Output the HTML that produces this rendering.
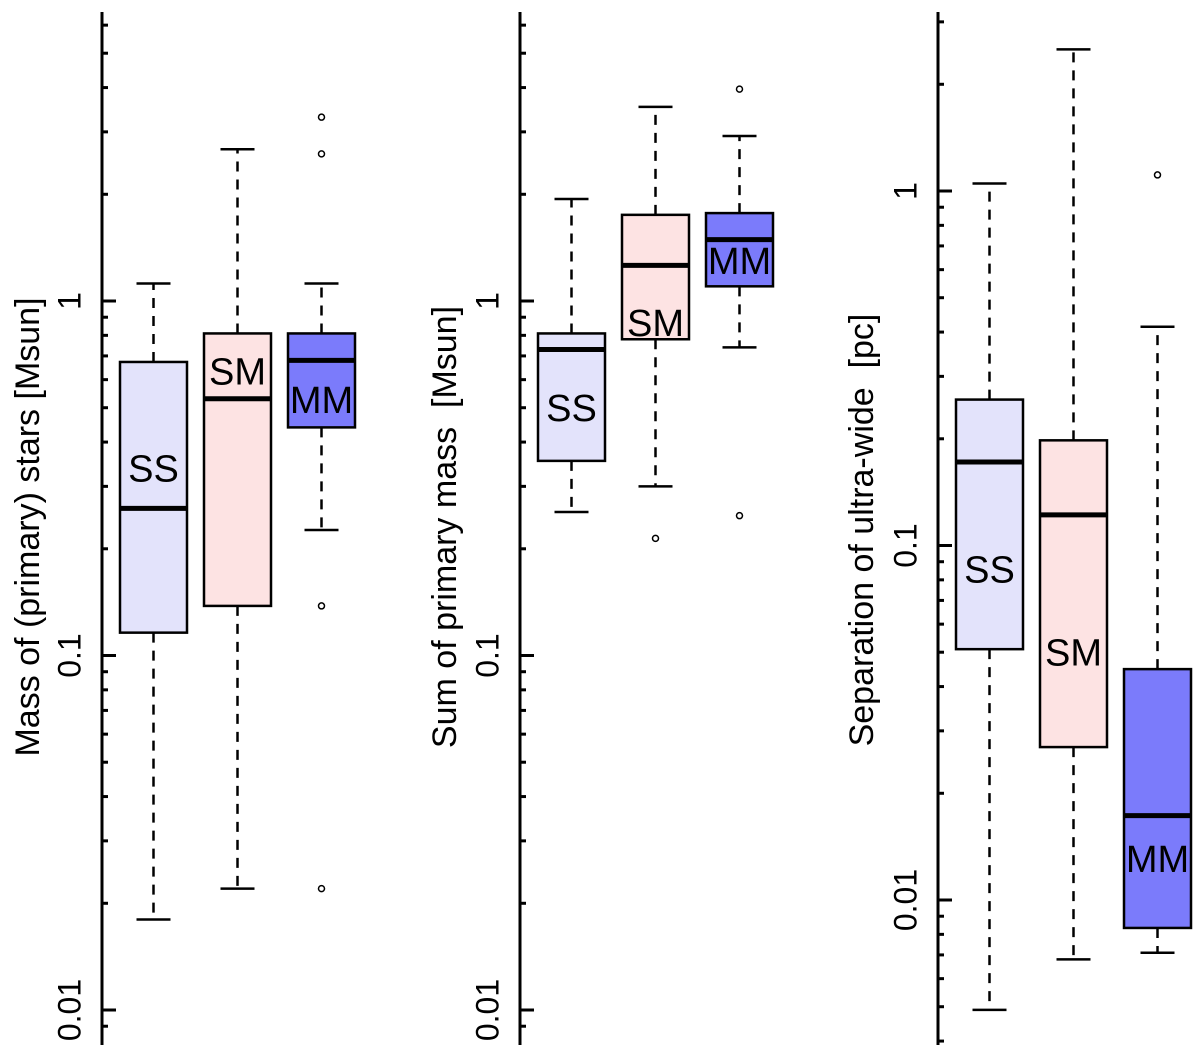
<!DOCTYPE html>
<html><head><meta charset="utf-8"><style>
html,body{margin:0;padding:0;background:#fff;}
svg{display:block;font-family:"Liberation Sans",sans-serif;}
text{white-space:pre;}
</style></head><body>
<svg id="chart" width="1200" height="1057" viewBox="0 0 1200 1057" xmlns="http://www.w3.org/2000/svg"></svg>
<script>
const groups = ["SS","SM","MM"];
const colors = ["#e3e3fb","#fde3e3","#7b7bfb"];
const panelTitles = ["Mass of (primary) stars [Msun]","Sum of primary mass  [Msun]","Separation of ultra-wide  [pc]"];
const tickValues = [0.01,0.1,1];
const tickLabels = ["0.01","0.1","1"];
// per panel: [whiskerLow, q1, median, q3, whiskerHigh]
const p1Stats = [[0.018,0.116,0.26,0.673,1.12],[0.022,0.138,0.53,0.81,2.68],[0.226,0.44,0.68,0.81,1.12]];
const p2Stats = [[0.254,0.354,0.73,0.81,1.94],[0.30,0.78,1.26,1.75,3.53],[0.74,1.10,1.49,1.77,2.92]];
const p3Stats = [[0.0049,0.051,0.172,0.258,1.05],[0.0068,0.027,0.122,0.198,2.51],[0.0071,0.00834,0.0173,0.0448,0.414]];
const p1Outliers = [[],[],[3.3,2.6,0.138,0.022]];
const p2Outliers = [[],[0.214],[3.96,0.248]];
const p3Outliers = [[],[],[1.11]];
const labelPos1 = [0.33,0.62,0.515];
const labelPos2 = [0.49,0.85,1.27];
const labelPos3 = [0.084,0.049,0.0128];

const svg = document.getElementById('chart');
const NS = "http://www.w3.org/2000/svg";
function mk(tag, attrs, parent){const e=document.createElementNS(NS,tag);for(const k in attrs)e.setAttribute(k,attrs[k]);(parent||svg).appendChild(e);return e;}

const panels = [
 {axisX:102, y1:301, stats:p1Stats, out:p1Outliers, lab:labelPos1, lmin:-2.1, lmax:0.82, titleX:30, titleY:527, tickLX:72},
 {axisX:520, y1:301, stats:p2Stats, out:p2Outliers, lab:labelPos2, lmin:-2.1, lmax:0.82, titleX:447, titleY:527, tickLX:490},
 {axisX:938, y1:191, stats:p3Stats, out:p3Outliers, lab:labelPos3, lmin:-2.41, lmax:0.51, titleX:864, titleY:530, tickLX:908}
];
const DEC = 354.5;
panels.forEach((p,pi)=>{
  const y = v => p.y1 - Math.log10(v)*DEC;
  const g = mk('g',{});
  
  
  const ax = mk('line',{x1:p.axisX,x2:p.axisX,y1:12,y2:1045,stroke:'#000','stroke-width':3},g);
  
  
  for(let d=-3; d<=1; d++){
    for(let m=1;m<=9;m++){
      const v=m*Math.pow(10,d); const yy=y(v);
      if(yy<14||yy>1044) continue;
      const t=mk('line',{x1:p.axisX,x2:p.axisX+(m===1?14:6),y1:yy,y2:yy,stroke:'#000','stroke-width':3},g);
      
      
    }
  }
  tickValues.forEach((v,i)=>{
    const yy=y(v); if(yy<14||yy>1044) return;
    const t=mk('text',{x:p.tickLX,y:yy,transform:`rotate(-90 ${p.tickLX} ${yy})`,'text-anchor':'middle','dominant-baseline':'middle','font-size':32},g);
    t.textContent=tickLabels[i];
    
    
  });
  const tt=mk('text',{x:p.titleX,y:p.titleY,transform:`rotate(-90 ${p.titleX} ${p.titleY})`,'text-anchor':'middle','dominant-baseline':'middle','font-size':34},g);
  tt.textContent=panelTitles[pi];
  
  
  groups.forEach((gname,bi)=>{
    const s=p.stats[bi];
    const x0=p.axisX+18+bi*84, w=67, cx=x0+w/2;
    const bg=mk('g',{},g);
    
    
    mk('line',{x1:cx,x2:cx,y1:y(s[3]),y2:y(s[4]),stroke:'#000','stroke-width':2.5,'stroke-dasharray':'10 8'},bg);
    mk('line',{x1:cx,x2:cx,y1:y(s[1]),y2:y(s[0]),stroke:'#000','stroke-width':2.5,'stroke-dasharray':'10 8'},bg);
    mk('line',{x1:cx-17,x2:cx+17,y1:y(s[4]),y2:y(s[4]),stroke:'#000','stroke-width':2.5},bg);
    mk('line',{x1:cx-17,x2:cx+17,y1:y(s[0]),y2:y(s[0]),stroke:'#000','stroke-width':2.5},bg);
    mk('rect',{x:x0,y:y(s[3]),width:w,height:y(s[1])-y(s[3]),fill:colors[bi],stroke:'#000','stroke-width':2.5},bg);
    const lt=mk('text',{x:cx,y:y(p.lab[bi]),'text-anchor':'middle','dominant-baseline':'middle','font-size':38},bg);
    lt.textContent=gname;
    mk('line',{x1:x0,x2:x0+w,y1:y(s[2]),y2:y(s[2]),stroke:'#000','stroke-width':5},bg);
    p.out[bi].forEach(v=>{
      const c=mk('circle',{cx:cx,cy:y(v),r:3,fill:'none',stroke:'#000','stroke-width':1.5},bg);
      
      
    });
  });
});
</script>
</body></html>
